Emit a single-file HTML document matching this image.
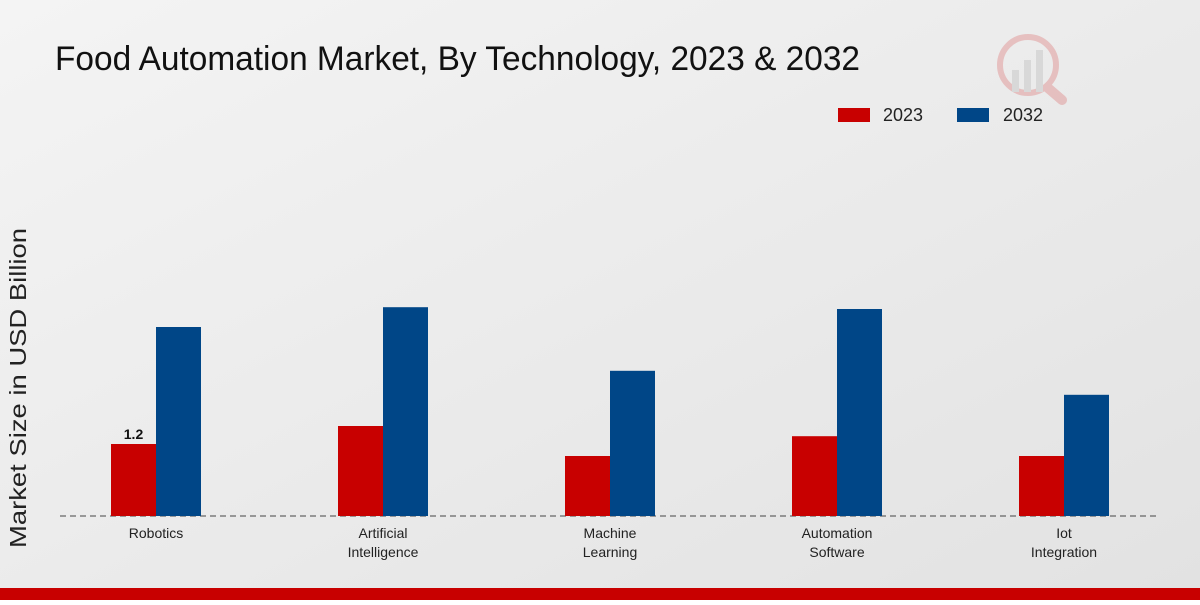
<!DOCTYPE html>
<html><head><meta charset="utf-8"><style>
body{margin:0;width:1200px;height:600px;overflow:hidden;font-family:"Liberation Sans",sans-serif}
</style></head><body>
<svg id="chart" width="1200" height="600" xmlns="http://www.w3.org/2000/svg">
<defs><linearGradient id="bg" x1="0" y1="0" x2="1" y2="1"><stop offset="0" stop-color="#f4f4f4"/><stop offset="1" stop-color="#e2e2e2"/></linearGradient></defs>
<rect width="1200" height="600" fill="url(#bg)"/>
<text x="55" y="70" font-size="34" textLength="805" lengthAdjust="spacingAndGlyphs" fill="#111">Food Automation Market, By Technology, 2023 &amp; 2032</text>
<g opacity="0.18">
<circle cx="1028" cy="65" r="28" fill="none" stroke="#c00" stroke-width="6"/>
<line x1="1048" y1="88" x2="1062" y2="100" stroke="#c00" stroke-width="10" stroke-linecap="round"/>
<rect x="1012" y="70" width="7" height="22" fill="#888"/><rect x="1024" y="60" width="7" height="32" fill="#888"/><rect x="1036" y="50" width="7" height="42" fill="#888"/>
</g>
<g>
<rect x="838" y="108" width="32" height="14" fill="#c80000"/>
<text x="883" y="121" font-size="18" textLength="40" lengthAdjust="spacingAndGlyphs" fill="#222">2023</text>
<rect x="957" y="108" width="32" height="14" fill="#004687"/>
<text x="1003" y="121" font-size="18" textLength="40" lengthAdjust="spacingAndGlyphs" fill="#222">2032</text>
</g>
<text transform="translate(26,388) rotate(-90)" text-anchor="middle" font-size="23" textLength="320" lengthAdjust="spacingAndGlyphs" fill="#222">Market Size in USD Billion</text>
<line x1="60" y1="516" x2="1160" y2="516" stroke="#444" stroke-dasharray="6,4"/>
<g id="bars"></g>
<rect x="0" y="588" width="1200" height="12" fill="#c80000"/>
</svg>
<script>
const categories=[["Robotics"],["Artificial","Intelligence"],["Machine","Learning"],["Automation","Software"],["Iot","Integration"]];
const values2023=[1.2,1.5,1.0,1.33,1.0];
const values2032=[3.15,3.48,2.42,3.45,2.02];
const NS="http://www.w3.org/2000/svg";
const g=document.getElementById("bars");
const x0=156,step=227,bw=45,base=516,scale=60;
const xPos=i=>x0+i*step;
const yPos=v=>base-v*scale;
function mk(tag,a){const e=document.createElementNS(NS,tag);for(const k in a)e.setAttribute(k,a[k]);g.appendChild(e);return e;}
categories.forEach((c,i)=>{
 const cx=xPos(i);
 const r=mk("rect",{x:cx-bw,y:yPos(values2023[i]),width:bw,height:values2023[i]*scale,fill:"#c80000"});
 
 
 const b=mk("rect",{x:cx,y:yPos(values2032[i]),width:bw,height:values2032[i]*scale,fill:"#004687"});
 
 
 c.forEach((ln,j)=>{
  const t=mk("text",{x:cx,y:538+j*19,"text-anchor":"middle","font-size":"14",fill:"#222"});
  t.textContent=ln;
  
  
 });
});
const lbl=mk("text",{x:xPos(0)-bw/2,y:yPos(values2023[0])-5,"text-anchor":"middle","font-size":"14","font-weight":"bold",fill:"#111"});
lbl.textContent=String(values2023[0]);


</script>
</body></html>
